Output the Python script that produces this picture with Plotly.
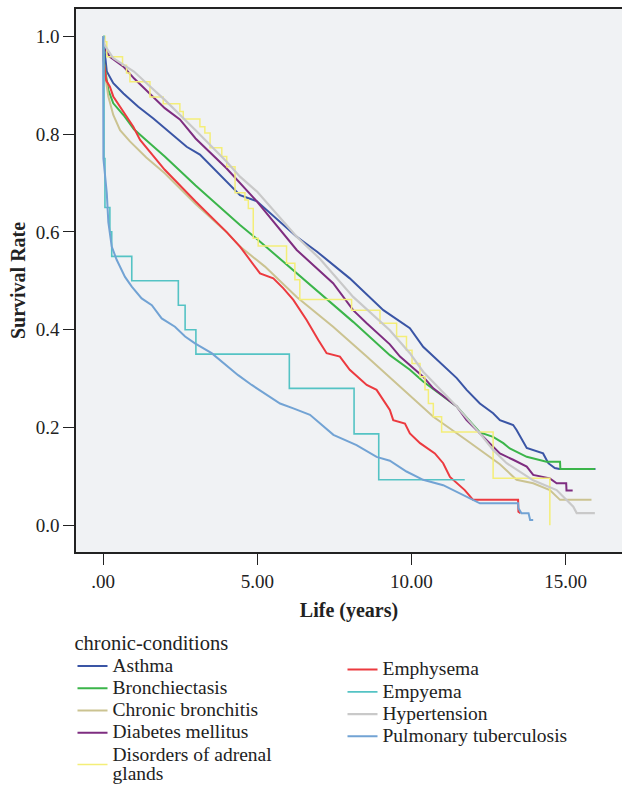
import plotly.graph_objects as go

# ---------------- data ----------------
asthma_t = [0, 0.03, 0.12, 0.33, 0.66, 1.14, 1.63, 2.71, 3.14, 4.44, 4.98, 6.28, 6.93, 8.0, 9.09, 9.95,
            10.38, 11.47, 11.79, 12.22, 12.65, 12.87, 13.3, 13.41, 13.74, 14.27, 14.44, 14.65, 14.8, 15.97]
asthma_s = [1.0, 0.979, 0.928, 0.904, 0.883, 0.856, 0.832, 0.774, 0.758, 0.675, 0.663, 0.59, 0.56, 0.505, 0.44, 0.403,
            0.365, 0.301, 0.277, 0.249, 0.229, 0.215, 0.205, 0.195, 0.158, 0.147, 0.127, 0.117, 0.115, 0.115]

bronch_t = [0, 0.02, 0.17, 0.33, 0.66, 1.0, 1.52, 2.0, 3.0, 4.0, 4.44, 5.0, 6.28, 8.11, 9.3, 9.95, 10.38,
            11.47, 12.22, 12.65, 12.98, 13.19, 13.74, 14.38, 14.82, 14.83, 15.95]
bronch_s = [1.0, 0.95, 0.89, 0.863, 0.839, 0.81, 0.781, 0.754, 0.695, 0.638, 0.614, 0.585, 0.515, 0.416, 0.348, 0.318, 0.294,
            0.243, 0.19, 0.181, 0.168, 0.157, 0.14, 0.13, 0.13, 0.115, 0.115]

chronic_t = [0, 0.02, 0.17, 0.33, 0.55, 0.87, 1.4, 2.0, 3.0, 4.0, 4.44, 5.25, 6.28, 7.46, 8.55, 9.63, 10.71, 11.79,
             12.87, 13.41, 13.95, 14.49, 14.82, 15.84]
chronic_s = [1.0, 0.94, 0.877, 0.839, 0.808, 0.785, 0.752, 0.72, 0.657, 0.60, 0.57, 0.529, 0.467, 0.406, 0.345, 0.283, 0.222, 0.174,
             0.125, 0.093, 0.086, 0.072, 0.052, 0.052]

diabetes_t = [0, 0.05, 0.22, 0.66, 1.0, 2.0, 2.49, 3.0, 4.0, 4.44, 4.98, 6.28, 7.03, 7.46, 8.11, 8.55, 9.3, 9.63,
              10.38, 10.71, 11.47, 11.79, 12.22, 12.87, 13.3, 13.74, 13.95, 14.49, 14.71, 15.02, 15.03, 15.23]
diabetes_s = [1.0, 0.975, 0.958, 0.938, 0.914, 0.853, 0.83, 0.791, 0.73, 0.699, 0.663, 0.563, 0.52, 0.495, 0.44, 0.413, 0.37, 0.345,
              0.304, 0.28, 0.243, 0.215, 0.188, 0.147, 0.134, 0.12, 0.103, 0.096, 0.086, 0.086, 0.071, 0.071]

adrenal_t = [0, 0.06, 0.12, 0.63, 0.76, 0.87, 1.52, 1.95, 2.49, 2.6, 3.14, 3.3, 3.47, 3.85, 4.01, 4.28, 4.6, 4.71,
             4.87, 5.03, 5.95, 6.22, 6.38, 8.06, 8.98, 9.52, 9.84, 10.02, 10.28, 10.44, 10.55, 10.71, 10.98, 12.65, 14.49]
adrenal_s = [1.0, 0.989, 0.958, 0.941, 0.925, 0.907, 0.876, 0.862, 0.846, 0.831, 0.815, 0.802, 0.772, 0.754, 0.733, 0.68, 0.665, 0.648,
             0.587, 0.571, 0.536, 0.502, 0.462, 0.44, 0.413, 0.386, 0.358, 0.331, 0.304, 0.277, 0.249, 0.222, 0.191, 0.096, 0.0]

emphysema_t = [0, 0.02, 0.1, 0.22, 0.33, 0.55, 0.76, 0.98, 1.2, 2.0, 3.0, 4.0, 4.44, 5.09, 5.52, 5.84, 6.17, 6.6,
               6.98, 7.25, 7.68, 8.0, 8.55, 8.87, 9.3, 9.41, 9.79, 9.95, 10.28, 10.76, 11.03, 11.25, 11.73, 12.0,
               13.46, 13.47, 13.54]
emphysema_s = [1.0, 0.95, 0.91, 0.897, 0.877, 0.856, 0.836, 0.815, 0.788, 0.727, 0.662, 0.60, 0.57, 0.515, 0.505, 0.485, 0.461, 0.42,
               0.379, 0.352, 0.345, 0.318, 0.287, 0.277, 0.236, 0.215, 0.208, 0.188, 0.168, 0.147, 0.127, 0.099, 0.072, 0.052,
               0.052, 0.028, 0.025]

empyema_t = [0, 0.03, 0.06, 0.22, 0.28, 0.93, 2.44, 2.66, 3.01, 6.04, 8.14, 8.94, 11.73]
empyema_s = [1.0, 0.75, 0.65, 0.60, 0.55, 0.50, 0.45, 0.40, 0.35, 0.28, 0.187, 0.093, 0.093]

hyper_t = [0, 0.05, 0.33, 1.0, 1.41, 2.0, 3.0, 4.0, 4.44, 5.0, 6.28, 7.03, 8.11, 9.3, 9.95, 10.38, 11.47, 12.22,
           12.65, 13.09, 13.95, 14.71, 15.25, 15.36, 15.95]
hyper_s = [1.0, 0.982, 0.955, 0.928, 0.904, 0.87, 0.808, 0.744, 0.713, 0.682, 0.59, 0.545, 0.467, 0.399, 0.352, 0.314, 0.243, 0.188,
           0.154, 0.127, 0.092, 0.072, 0.038, 0.025, 0.025]

tb_t = [0, 0.01, 0.12, 0.17, 0.28, 0.44, 0.71, 0.93, 1.25, 1.58, 1.9, 2.33, 2.66, 2.98, 3.52, 4.06, 4.38, 4.82,
        5.25, 5.74, 6.17, 6.71, 7.47, 8.22, 8.87, 9.3, 9.84, 10.38, 11.03, 11.57, 12.0, 12.22, 13.46, 13.47, 13.57,
        13.8, 13.85, 13.95]
tb_s = [1.0, 0.75, 0.679, 0.62, 0.57, 0.543, 0.508, 0.488, 0.464, 0.45, 0.423, 0.406, 0.386, 0.372, 0.352, 0.324, 0.307, 0.287,
        0.27, 0.249, 0.239, 0.226, 0.185, 0.164, 0.14, 0.132, 0.11, 0.093, 0.082, 0.065, 0.052, 0.045, 0.045, 0.035, 0.0245,
        0.0245, 0.011, 0.011]

x_tickvals = [0, 5, 10, 15]
x_ticktext = [".00", "5.00", "10.00", "15.00"]
y_tickvals = [0.0, 0.2, 0.4, 0.6, 0.8, 1.0]
y_ticktext = ["0.0", "0.2", "0.4", "0.6", "0.8", "1.0"]

FONT = "Liberation Serif"
INK = "#222222"

series = [
    ("Asthma", asthma_t, asthma_s, "#3a55a5", 2.0, "linear", "legend"),
    ("Bronchiectasis", bronch_t, bronch_s, "#3bb54a", 2.0, "linear", "legend"),
    ("Chronic bronchitis", chronic_t, chronic_s, "#cbc391", 2.0, "linear", "legend"),
    ("Diabetes mellitus", diabetes_t, diabetes_s, "#7e2d80", 2.0, "linear", "legend"),
    ("Disorders of adrenal<br>glands", adrenal_t, adrenal_s, "#f4ee78", 1.5, "hv", "legend"),
    ("Emphysema", emphysema_t, emphysema_s, "#ec3a3f", 2.0, "linear", "legend2"),
    ("Empyema", empyema_t, empyema_s, "#54c3c4", 1.6, "hv", "legend2"),
    ("Hypertension", hyper_t, hyper_s, "#c9c9c9", 2.2, "linear", "legend2"),
    ("Pulmonary tuberculosis", tb_t, tb_s, "#72a3d4", 2.0, "linear", "legend2"),
]

fig = go.Figure()
for name, t, s, color, width, shape, lg in series:
    fig.add_trace(go.Scatter(
        x=t, y=s, mode="lines",
        name='<span style="font-size:19.5px">' + name + '</span>',
        line=dict(color=color, width=width, shape=shape),
        legend=lg,
    ))

W, H = 622, 785
L, R, T, B = 76, 0, 9, 233
ph = H - T - B


def py(px):
    return (H - B - px) / ph


def pxx(px):
    return (px - L) / (W - L - R)


fig.update_layout(
    width=W, height=H,
    margin=dict(l=L, r=R, t=T, b=B, autoexpand=False),
    paper_bgcolor="white",
    plot_bgcolor="#f0f2f4",
    font=dict(family=FONT, size=19, color=INK),
    legend=dict(
        x=pxx(72.5), xanchor="left", y=py(616), yanchor="top",
        orientation="v", bgcolor="rgba(0,0,0,0)",
        font=dict(family=FONT, size=14.8, color=INK),
        title=dict(text='<span style="font-size:20.5px">chronic-conditions</span>',
                   font=dict(family=FONT, size=26, color=INK)),
        itemwidth=30, traceorder="normal",
    ),
    legend2=dict(
        x=pxx(342.5), xanchor="left", y=py(653.5), yanchor="top",
        orientation="v", bgcolor="rgba(0,0,0,0)",
        font=dict(family=FONT, size=14.8, color=INK),
        itemwidth=30, traceorder="normal",
    ),
    xaxis=dict(
        range=[-0.879, 16.83],
        tickvals=x_tickvals, ticktext=x_ticktext,
        ticks="outside", ticklen=11, tickwidth=1.3, tickcolor=INK,
        showline=True, linecolor=INK, linewidth=1.5, mirror=True,
        showgrid=False, zeroline=False,
        tickfont=dict(family=FONT, size=19, color=INK),
        title=dict(text="<b>Life (years)</b>", font=dict(family=FONT, size=20, color=INK), standoff=12),
    ),
    yaxis=dict(
        range=[-0.0546, 1.0558],
        tickvals=y_tickvals, ticktext=y_ticktext,
        ticks="outside", ticklen=11, tickwidth=1.3, tickcolor=INK,
        showline=True, linecolor=INK, linewidth=1.5, mirror=False,
        showgrid=False, zeroline=False,
        tickfont=dict(family=FONT, size=19, color=INK),
        title=dict(text="<b>Survival Rate</b>", font=dict(family=FONT, size=20, color=INK), standoff=5),
    ),
)

fig.write_html("out.html")
